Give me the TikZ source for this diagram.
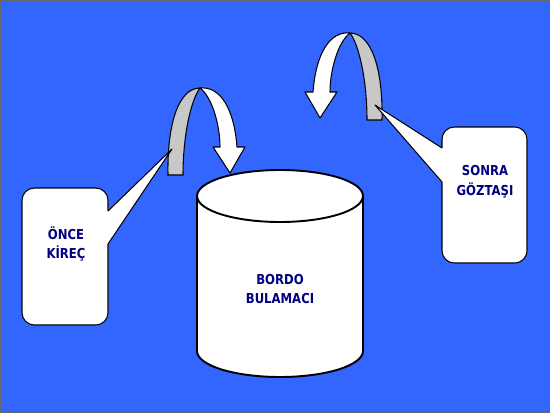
\documentclass[tikz,border=0pt]{standalone}
\usepackage{fontspec}
\newfontfamily\slidefont{DejaVu Sans}[FakeStretch=0.85]
\definecolor{slideblue}{RGB}{51,102,255}
\definecolor{navytext}{RGB}{0,0,128}
\definecolor{backside}{RGB}{200,200,200}

% one twisted U-turn arrow, grey back side and white front side
\newcommand\uturn{%
  \filldraw[fill=backside, semithick] (168,175) .. controls (167,120) and (180,88) .. (200,88)
    .. controls (191,100) and (183,135) .. (183,175) -- cycle;
  \filldraw[fill=white, semithick, line join=round] (200,88) .. controls (212,97) and (220,125) .. (220,147)
    -- (213,147) -- (230,173) -- (245,147) -- (237,147)
    .. controls (234,108) and (220,86) .. (200,88) -- cycle;
}

\begin{document}
\begin{tikzpicture}[x=0.02cm, y=-0.02cm,
  callout/.style={fill=white, draw=black, semithick},
  word/.style={text=navytext, align=center,
    font=\slidefont\bfseries\fontsize{7.8}{11.3}\selectfont}]
\useasboundingbox (0,0) rectangle (550,412);
\filldraw[fill=slideblue, draw=black!60, line width=0.8pt] (0,0) rectangle (550,412);

% the tank
\filldraw[fill=white, line width=1.1pt] (197,196) -- (197,351)
  arc[start angle=180, end angle=360, x radius=1.66cm, y radius=0.52cm] -- (363,196)
  arc[start angle=0, end angle=180, x radius=1.66cm, y radius=0.52cm] -- cycle;
\draw[line width=1.1pt] (197,196) arc[start angle=180, end angle=360, x radius=1.66cm, y radius=0.52cm];
\node[word] (Bulamac) at (280,289) {BORDO\\BULAMACI};

% the two turning arrows
\uturn
\begin{scope}[shift={(550,-55)}, xscale=-1]
  \uturn
\end{scope}

% left callout
\coordinate (KirecTip) at (172,149);
\filldraw[callout, rounded corners=7pt] (22,188) rectangle (108,325);
\fill[white] (KirecTip) -- (108,211) -- (105,211) -- (105,244) -- (108,244) -- cycle;
\draw[semithick, line join=round] (108,211) -- (KirecTip) -- (108,244);
\node[word] (Kirec) at (66,244) {ÖNCE\\KİREÇ};

% right callout
\coordinate (GoztasiTip) at (375,105);
\filldraw[callout, rounded corners=7pt] (442,127) rectangle (527,263);
\fill[white] (GoztasiTip) -- (442,148) -- (445,148) -- (445,182) -- (442,182) -- cycle;
\draw[semithick, line join=round] (442,148) -- (GoztasiTip) -- (442,182);
\node[word] (Goztasi) at (485,182) {SONRA\\GÖZTAŞI};
\end{tikzpicture}
\end{document}
